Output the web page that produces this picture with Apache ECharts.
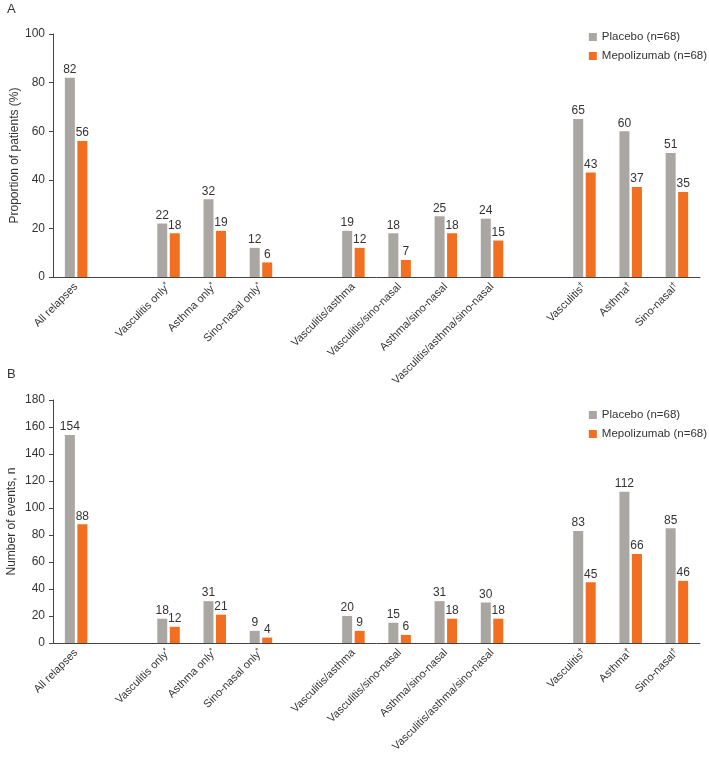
<!DOCTYPE html>
<html><head><meta charset="utf-8">
<script src="https://cdn.jsdelivr.net/npm/echarts@6/dist/echarts.min.js"></script>
<style>html,body{margin:0;padding:0;background:#fff}#c{width:709px;height:760px}</style>
</head><body><div id="c"></div>
<script>
const categories = ['All relapses', '', 'Vasculitis only*', 'Asthma only*', 'Sino-nasal only*', '', 'Vasculitis/asthma', 'Vasculitis/sino-nasal', 'Asthma/sino-nasal', 'Vasculitis/asthma/sino-nasal', '', 'Vasculitis†', 'Asthma†', 'Sino-nasal†'];
const seriesNames = ['Placebo (n=68)', 'Mepolizumab (n=68)'];
const placeboPct = [82, '-', 22, 32, 12, '-', 19, 18, 25, 24, '-', 65, 60, 51];
const mepoPct = [56, '-', 18, 19, 6, '-', 12, 7, 18, 15, '-', 43, 37, 35];
const placeboEvents = [154, '-', 18, 31, 9, '-', 20, 15, 31, 30, '-', 83, 112, 85];
const mepoEvents = [88, '-', 12, 21, 4, '-', 9, 6, 18, 18, '-', 45, 66, 46];
const yNames = ['Proportion of patients (%)', 'Number of events, n'];
const panelLabels = ['A', 'B'];

const GRAY = '#aaa6a2', ORANGE = '#f26f21', TXT = '#333', AX = '#444';
const FONT = '"Liberation Sans", Arial, sans-serif';

function catFmt(v) {
  if (!v) return '';
  const last = v.slice(-1);
  if (last === '*' || last === '†') return v.slice(0, -1) + '{s|' + last + '}';
  return v;
}

const chart = echarts.init(document.getElementById('c'), null, {renderer: 'canvas'});
const grids = [{left: 53, right: 9, top: 34, bottom: 483, outerBoundsMode: 'none', containLabel: false},
               {left: 53, right: 9, top: 400, bottom: 117, outerBoundsMode: 'none', containLabel: false}];
const xAxes = grids.map((g, i) => ({
  type: 'category', gridIndex: i, data: categories,
  axisLine: {lineStyle: {color: AX, width: 1}},
  axisTick: {show: false},
  axisLabel: {rotate: 45, interval: 0, fontSize: 11, color: TXT, fontFamily: FONT, margin: 8,
    formatter: catFmt,
    rich: {s: {fontSize: 8, color: TXT, fontFamily: FONT, verticalAlign: 'top', padding: [0, 0, 5, 0]}}}
}));
const yAxes = [
  {min: 0, max: 100, interval: 20},
  {min: 0, max: 180, interval: 20}
].map((a, i) => Object.assign(a, {
  type: 'value', gridIndex: i, name: yNames[i], nameLocation: 'middle', nameGap: i === 0 ? 32 : 35,
  nameMoveOverlap: false,
  nameTextStyle: {fontSize: 12, color: TXT, fontFamily: FONT},
  axisLine: {show: true, lineStyle: {color: AX}},
  axisTick: {show: true, length: 4, lineStyle: {color: AX}},
  splitLine: {show: false},
  axisLabel: {fontSize: 12, color: TXT, fontFamily: FONT, margin: 8}
}));
const lbl = {show: true, position: 'top', distance: 2, fontSize: 12, color: TXT, fontFamily: FONT};
const mk = (name, data, color, i) => ({
  name, type: 'bar', xAxisIndex: i, yAxisIndex: i, data, barWidth: 10, barGap: '25%',
  itemStyle: {color}, label: lbl
});
chart.setOption({
  animation: false,
  textStyle: {fontFamily: FONT},
  title: panelLabels.map((t, i) => ({text: t, left: 2, top: i === 0 ? -2 : 363, textStyle: {fontSize: 13, fontWeight: 'normal', color: TXT, fontFamily: FONT}})),
  legend: [0, 1].map(i => ({
    data: seriesNames, orient: 'vertical', right: -3, top: i === 0 ? 26 : 404,
    itemWidth: 8, itemHeight: 8, itemGap: 7, icon: 'rect',
    textStyle: {fontSize: 11.5, color: TXT, fontFamily: FONT}
  })),
  grid: grids,
  xAxis: xAxes,
  yAxis: yAxes,
  series: [
    mk(seriesNames[0], placeboPct, GRAY, 0),
    mk(seriesNames[1], mepoPct, ORANGE, 0),
    mk(seriesNames[0], placeboEvents, GRAY, 1),
    mk(seriesNames[1], mepoEvents, ORANGE, 1)
  ]
});
</script></body></html>
